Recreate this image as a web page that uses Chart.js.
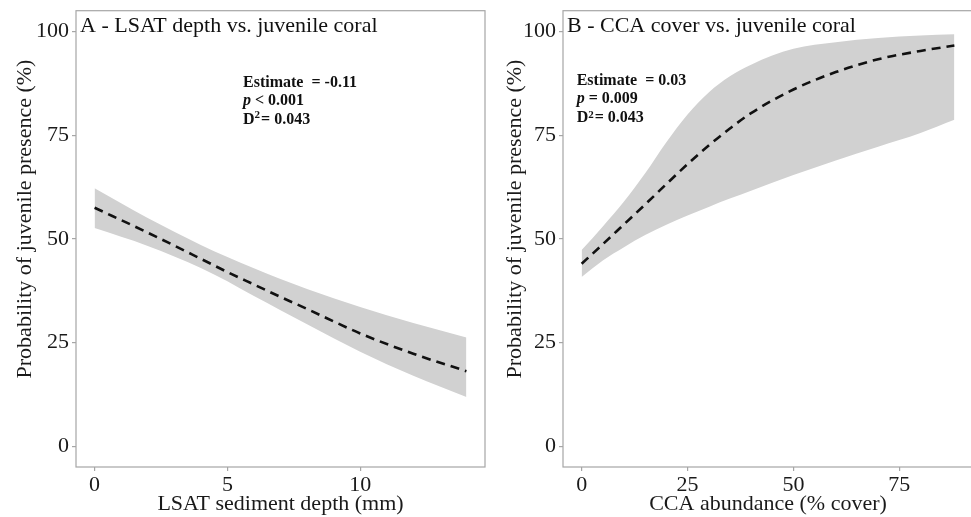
<!DOCTYPE html>
<html>
<head>
<meta charset="utf-8">
<script src="https://cdn.jsdelivr.net/npm/chart.js@4.4.1/dist/chart.umd.min.js"></script>
<style>
html,body{margin:0;padding:0;background:#fff;overflow:hidden;width:971px;height:517px;}
#wrapA{position:absolute;left:0;top:0;}
#wrapB{position:absolute;left:490px;top:0;}
</style>
</head>
<body>
<div id="wrapA"><canvas id="chartA" width="490" height="517"></canvas></div>
<div id="wrapB"><canvas id="chartB" width="486" height="517"></canvas></div>
<script>
// panel A - LSAT sediment depth
const depthX=[0,2,4,5,6,7,8,10,12,14];
const depthMean=[57.5,51.5,45.2,42.0,39.0,36.0,33.1,27.2,22.3,18.1];
const depthUpper=[62.2,55.0,48.5,45.6,42.9,40.3,37.9,33.6,29.7,26.2];
const depthLower=[52.6,48.3,43.0,39.8,36.2,32.8,29.4,22.8,17.0,11.9];
const depthTicks=[0,5,10];

// panel B - CCA cover
const ccaX=[0,5,10,15,20,25,30,35,40,50,60,70,80,88];
const ccaMean=[44.0,48.7,53.5,58.3,63.2,68.0,72.5,76.6,80.3,86.0,90.2,93.3,95.3,96.6];
const ccaUpper=[47.3,53.0,59.0,65.8,73.3,80.0,85.3,89.2,92.0,95.8,97.4,98.4,99.0,99.3];
const ccaLower=[40.8,44.8,48.0,50.9,53.4,55.6,57.7,59.7,61.6,65.4,68.9,72.2,75.5,78.7];
const ccaTicks=[0,25,50,75];

const probTicks=[0,25,50,75,100];

const SERIF='"Liberation Serif","Times New Roman",serif';
const GREY='#a6a6a6';
const BAND='#d1d1d1';

function pts(xs,ys){
return xs.map((x,i)=>({x,y:ys[i]}));
}

// frame + text inside the panel, y title drawn by hand
const panelText={
id:'panelText',
afterDraw(chart,args,opts){
let ctx=chart.ctx;
let a=chart.chartArea;
ctx.save();
ctx.strokeStyle=GREY;
ctx.lineWidth=1.2;
ctx.strokeRect(a.left,a.top,a.right-a.left,a.bottom-a.top);

ctx.fillStyle='#1a1a1a';
ctx.save();
ctx.translate(25,219);
ctx.rotate(-Math.PI/2);
ctx.textAlign='center';
ctx.textBaseline='middle';
ctx.font='22px '+SERIF;
ctx.fillText('Probability of juvenile presence (%)',0,0);
ctx.restore();

ctx.fillStyle='#111';
ctx.textBaseline='alphabetic';
ctx.font='22px '+SERIF;
ctx.fillText(opts.title,a.left+4,32);

let x=opts.noteX;
let y=opts.noteY;
ctx.font='bold 16px '+SERIF;
ctx.fillText('Estimate  = '+opts.est,x,y);

ctx.font='italic bold 16px '+SERIF;
ctx.fillText('p',x,y+18.5);
let w=ctx.measureText('p').width;
ctx.font='bold 16px '+SERIF;
ctx.fillText(' '+opts.p,x+w,y+18.5);

ctx.fillText('D',x,y+37);
w=ctx.measureText('D').width;
ctx.font='bold 11px '+SERIF;
ctx.fillText('2',x+w,y+37-opts.supUp);
let w2=ctx.measureText('2').width;
ctx.font='bold 16px '+SERIF;
ctx.fillText('= 0.043',x+w+w2+1,y+37);
ctx.restore();
}
};

function makeChart(id,cfg){
return new Chart(document.getElementById(id),{
type:'line',
data:{
datasets:[
{data:pts(cfg.xs,cfg.mean),borderColor:'#111',borderWidth:2.6,borderDash:[9,6],pointRadius:0,fill:false,cubicInterpolationMode:'monotone'},
{data:pts(cfg.xs,cfg.lower),borderWidth:0,pointRadius:0,fill:false,cubicInterpolationMode:'monotone'},
{data:pts(cfg.xs,cfg.upper),borderWidth:0,pointRadius:0,fill:'-1',backgroundColor:BAND,cubicInterpolationMode:'monotone'}
]
},
options:{
responsive:false,
animation:false,
layout:{padding:{top:10,right:cfg.padRight,left:0,bottom:0}},
plugins:{
legend:{display:false},
tooltip:{enabled:false},
panelText:cfg.text
},
scales:{
x:{
type:'linear',
min:cfg.xMin,
max:cfg.xMax,
afterBuildTicks:s=>{s.ticks=cfg.xTicks.map(v=>({value:v}));},
afterFit:s=>{s.height=50;},
border:{display:false},
grid:{drawOnChartArea:false,color:GREY,tickLength:4,lineWidth:1.2},
ticks:{font:{family:SERIF,size:22},color:'#1a1a1a',padding:1,maxRotation:0},
title:{display:true,text:cfg.xTitle,font:{family:SERIF,size:22},color:'#1a1a1a',padding:{top:0,bottom:0}}
},
y:{
type:'linear',
min:-5,
max:105,
afterBuildTicks:s=>{s.ticks=probTicks.map(v=>({value:v}));},
afterFit:s=>{s.width=cfg.yWidth;},
border:{display:false},
grid:{drawOnChartArea:false,color:GREY,tickLength:4,lineWidth:1.2},
ticks:{font:{family:SERIF,size:22,lineHeight:0.7},color:'#1a1a1a',padding:3},
title:{display:false}
}
}
},
plugins:[panelText]
});
}

makeChart('chartA',{
xs:depthX,mean:depthMean,upper:depthUpper,lower:depthLower,
xMin:-0.7,xMax:14.7,xTicks:depthTicks,
xTitle:'LSAT sediment depth (mm)',
padRight:5,yWidth:76,
text:{title:'A - LSAT depth vs. juvenile coral',est:'-0.11',p:'< 0.001',noteX:243,noteY:86.5,supUp:6}
});

makeChart('chartB',{
xs:ccaX,mean:ccaMean,upper:ccaUpper,lower:ccaLower,
xMin:-4.4,xMax:92.4,xTicks:ccaTicks,
xTitle:'CCA abundance (% cover)',
padRight:3,yWidth:73,
text:{title:'B - CCA cover vs. juvenile coral',est:'0.03',p:'= 0.009',noteX:86.7,noteY:84.5,supUp:4}
});
</script>
</body>
</html>
